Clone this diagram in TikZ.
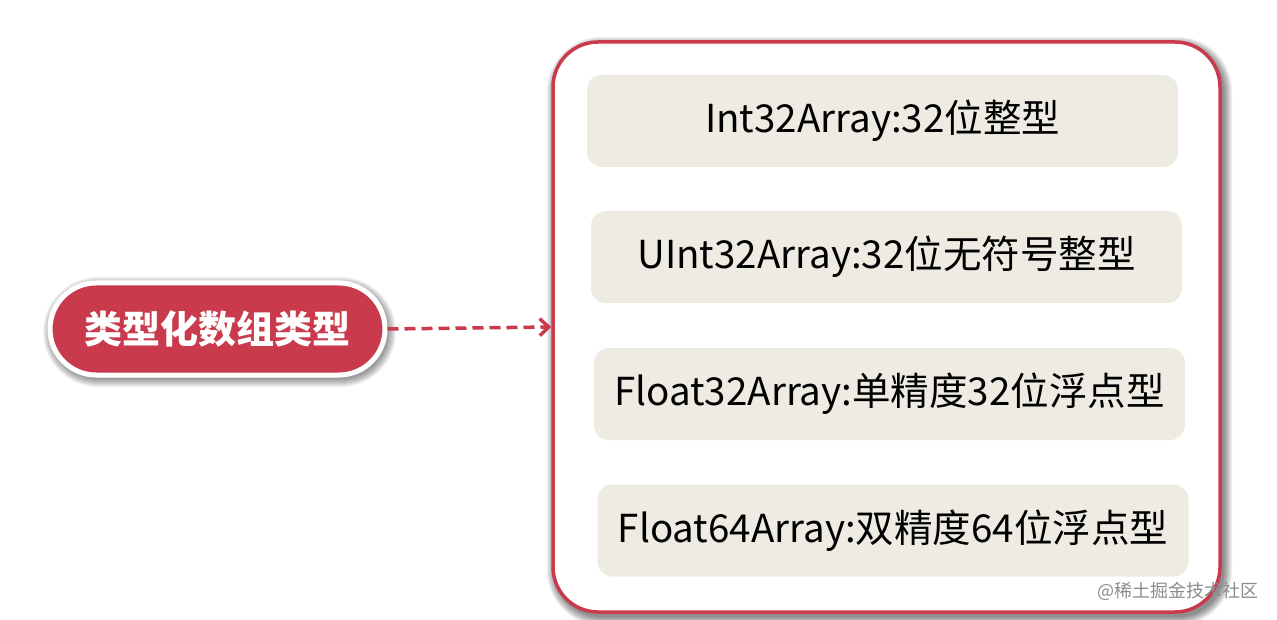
\documentclass[tikz,border=0pt]{standalone}
\usepackage{fontspec}
\setmainfont{Noto Sans CJK SC}
\newfontfamily\cjk{Noto Sans CJK SC}
\usetikzlibrary{arrows.meta}
\definecolor{crim}{HTML}{C83A4C}
\definecolor{itemfill}{HTML}{EDEBE2}
\tikzset{
  itembox/.style={fill=itemfill, rounded corners=15pt, minimum width=591pt, minimum height=92pt, inner sep=0pt, font=\cjk\fontsize{38.5}{42}\selectfont, text=black},
}
\begin{document}
\begin{tikzpicture}[x=1pt,y=-1pt]
\useasboundingbox (0,0) rectangle (1277,620);
\fill[white] (0,0) rectangle (1277,620);
% soft shadows
\foreach \d in {1,2,...,9} {
  \fill[black, opacity=0.06, rounded corners={45+\d}] (553-\d+3,42-\d+4) rectangle (1220+\d+3,612+\d+4);
  \fill[black, opacity=0.05, rounded corners={46+\d}] (50-\d+2,283-\d+3) rectangle (385+\d+2,375+\d+3);
}
% outer container
\node[draw=crim, line width=3.5pt, fill=white, rounded corners=45pt, minimum width=667pt, minimum height=570pt, inner sep=0pt] (panel) at (886.5,327) {};
\node[itembox] (i1) at (882.5,121) {Int32Array:32位整型};
\node[itembox] (i2) at (886.5,257) {UInt32Array:32位无符号整型};
\node[itembox] (i3) at (889.5,394) {Float32Array:单精度32位浮点型};
\node[itembox] (i4) at (893,530.5) {Float64Array:双精度64位浮点型};
% left pill
\node[draw=white, line width=5pt, fill=crim, rounded corners=46pt, minimum width=335pt, minimum height=92pt, inner sep=0pt,
  font=\cjk\bfseries\fontsize{38}{40}\selectfont, text=white] (root) at (217.5,329) {类型化数组类型};
\draw[crim, line width=3.5pt, dash pattern=on 11pt off 6pt, -{Straight Barb[length=9pt,width=17pt,line width=3.5pt]}] (root.east) -- (panel.west);
% watermark
\node[anchor=east, text=black!45, font=\cjk\fontsize{18}{20}\selectfont, inner sep=0pt] (wm) at (1259,591) {@稀土掘金技术社区};
\end{tikzpicture}
\end{document}
